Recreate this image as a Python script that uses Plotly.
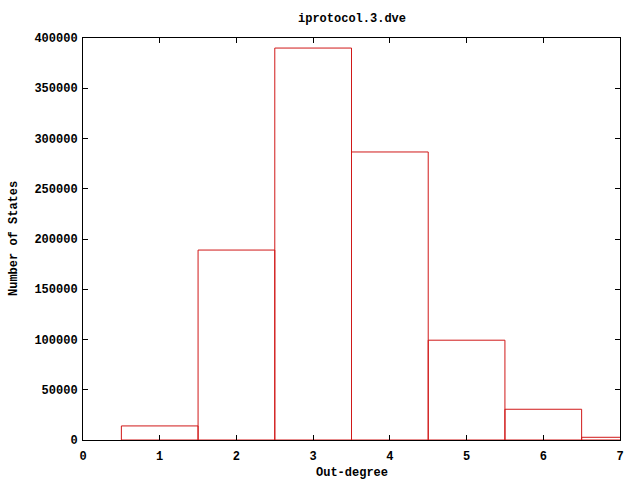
import plotly.graph_objects as go

out_degree = [1, 2, 3, 4, 5, 6, 7]
num_states = [14000, 189000, 390000, 286600, 99300, 30600, 2700]
x_ticks = [0, 1, 2, 3, 4, 5, 6, 7]
y_ticks = [0, 50000, 100000, 150000, 200000, 250000, 300000, 350000, 400000]

font = dict(family="Liberation Mono, DejaVu Sans Mono, monospace", size=12, color="black")

fig = go.Figure(go.Bar(
    x=out_degree, y=num_states, width=1,
    marker=dict(color="rgba(0,0,0,0)", line=dict(color="#d01818", width=1)),
    cliponaxis=True, hoverinfo="skip",
))
axis_common = dict(showgrid=False, zeroline=False, showline=True, linecolor="black", linewidth=1,
                   mirror="allticks", ticks="inside", ticklen=5, tickcolor="black",
                   tickfont=font, automargin=False, layer="above traces")
fig.update_layout(
    width=640, height=480,
    margin=dict(l=83, r=20, t=38, b=40, autoexpand=False),
    plot_bgcolor="white", paper_bgcolor="white",
    showlegend=False,
    font=font,
    xaxis=dict(range=[0, 7], tickvals=x_ticks, ticktext=[f"<b>{v}</b>" for v in x_ticks],
               ticklabelstandoff=5, **axis_common),
    yaxis=dict(range=[0, 400000], tickvals=y_ticks, ticktext=[f"<b>{v}</b>" for v in y_ticks],
               ticklabelstandoff=2, **axis_common),
    annotations=[
        dict(text="<b>iprotocol.3.dve</b>", xref="paper", yref="paper", x=0.5, y=1, yshift=19,
             showarrow=False, font=font, xanchor="center", yanchor="middle"),
        dict(text="<b>Out-degree</b>", xref="paper", yref="paper", x=0.5, y=0, yshift=-33,
             showarrow=False, font=font, xanchor="center", yanchor="middle"),
        dict(text="<b>Number of States</b>", xref="paper", yref="paper", x=0, y=0.5, xshift=-69,
             showarrow=False, font=font, xanchor="center", yanchor="middle", textangle=-90),
    ],
)
fig.write_html("out.html", config={"displayModeBar": False},
               post_script="document.body.style.margin='0';document.body.style.overflow='hidden';")
